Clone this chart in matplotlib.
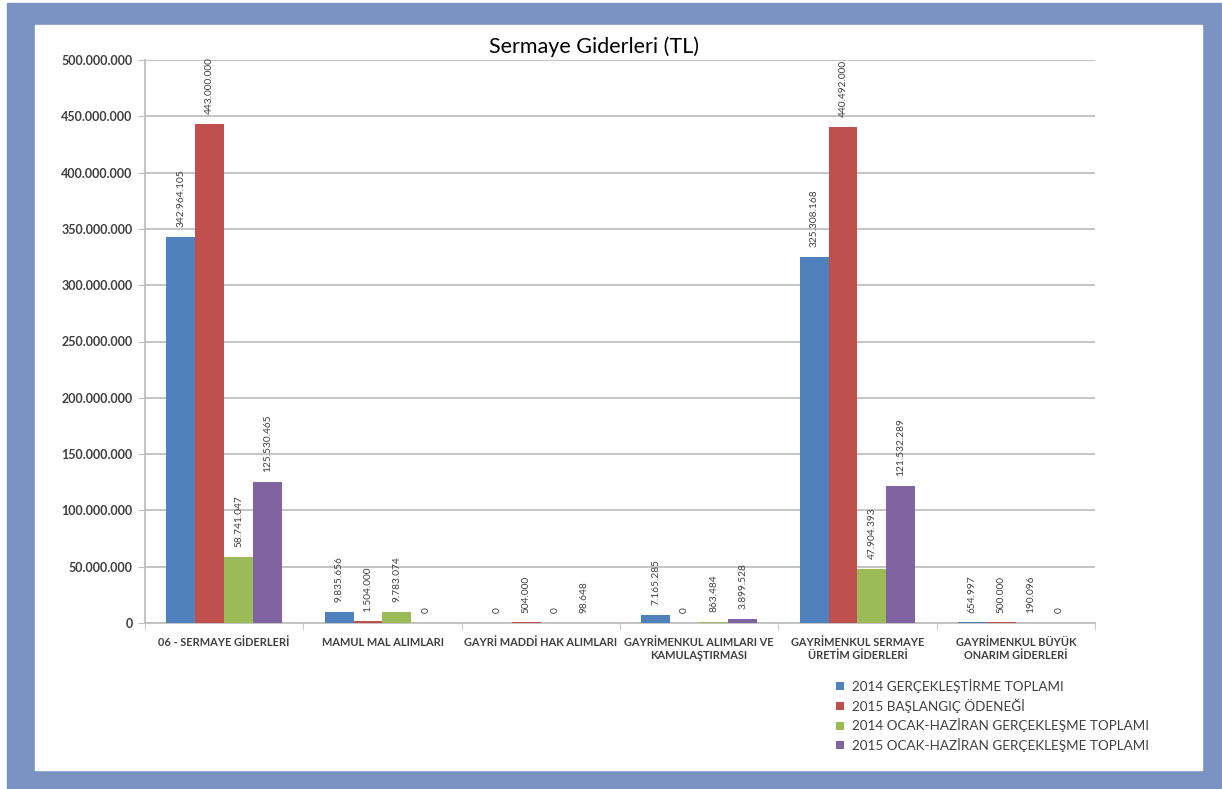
import numpy as np
import matplotlib
matplotlib.use("Agg")
from matplotlib import pyplot as plt
from matplotlib.patches import Rectangle

categories = [
    "06 - SERMAYE GİDERLERİ",
    "MAMUL MAL ALIMLARI",
    "GAYRİ MADDİ HAK ALIMLARI",
    "GAYRİMENKUL ALIMLARI VE\nKAMULAŞTIRMASI",
    "GAYRİMENKUL SERMAYE\nÜRETİM GİDERLERİ",
    "GAYRİMENKUL BÜYÜK\nONARIM GİDERLERİ",
]
series_names = [
    "2014 GERÇEKLEŞTİRME TOPLAMI",
    "2015 BAŞLANGIÇ ÖDENEĞİ",
    "2014 OCAK-HAZİRAN GERÇEKLEŞME TOPLAMI",
    "2015 OCAK-HAZİRAN GERÇEKLEŞME TOPLAMI",
]
gerceklestirme_2014 = [342964105, 9835656, 0, 7165285, 325308168, 654997]
baslangic_2015 = [443000000, 1504000, 504000, 0, 440492000, 500000]
ocak_haziran_2014 = [58741047, 9783074, 0, 863484, 47904393, 190096]
ocak_haziran_2015 = [125530465, 0, 98648, 3899528, 121532289, 0]
yticks = [0, 50e6, 100e6, 150e6, 200e6, 250e6, 300e6, 350e6, 400e6, 450e6, 500e6]

colors = ["#4F81BD", "#C0504D", "#9BBB59", "#8064A2"]
frame_color = "#7A93C2"
text_color = "#404040"
grid_color = "#BFBFBF"

plt.rcParams["font.family"] = ["Lato", "DejaVu Sans"]


def fmt(v):
    if v == 0:
        return "0"
    return f"{int(v):,}".replace(",", ".")


W, H = 1222, 789
fig = plt.figure(figsize=(W / 100, H / 100), dpi=100)
fig.patch.set_facecolor("white")
# blue frame and white panel
fig.patches.append(Rectangle((7 / W, 0), (W - 7) / W, (H - 3) / H,
                             transform=fig.transFigure, color=frame_color, zorder=-2))
fig.patches.append(Rectangle((35 / W, (H - 770) / H), (1202 - 35) / W, (770 - 25) / H,
                             transform=fig.transFigure, color="white", zorder=-1))

ax = fig.add_axes([145 / W, (H - 623) / H, (1095 - 145) / W, (623 - 60) / H])
ax.set_zorder(2)
ax.set_facecolor("none")

x = np.arange(len(categories))
width = 0.183
data = [gerceklestirme_2014, baslangic_2015, ocak_haziran_2014, ocak_haziran_2015]
for i, (vals, name, c) in enumerate(zip(data, series_names, colors)):
    pos = x + (i - 1.5) * width
    ax.bar(pos, vals, width, color=c, label=name, zorder=3)
    for px, v in zip(pos, vals):
        ax.annotate(fmt(v), (px, v), xytext=(0, 7),
                    textcoords="offset points", rotation=90, ha="center",
                    va="bottom", fontsize=7.3, color=text_color)

ax.set_xlim(-0.5, len(categories) - 0.5)
ax.set_ylim(0, 500e6)
ax.set_yticks(yticks)
ax.set_yticklabels([fmt(v) for v in yticks], fontsize=9, color=text_color,
                   fontweight="bold")
ax.set_xticks(x)
ax.set_xticklabels(categories, fontsize=7.9, color=text_color, fontweight="bold")
ax.set_xticks(np.arange(len(categories) + 1) - 0.5, minor=True)
ax.tick_params(axis="x", which="major", length=0, pad=10)
ax.tick_params(axis="x", which="minor", length=5, color=grid_color, direction="out")
ax.tick_params(axis="y", length=5, color=grid_color, pad=4)
ax.grid(axis="y", color=grid_color, linewidth=1.3, zorder=0)
for s in ["top", "right"]:
    ax.spines[s].set_visible(False)
for s in ["left", "bottom"]:
    ax.spines[s].set_color(grid_color)
    ax.spines[s].set_linewidth(1.3)

fig.text(594 / W, 1 - 47 / H, "Sermaye Giderleri (TL)", ha="center", va="center",
         fontsize=15.5, color="black")

leg = fig.legend(loc="upper left", bbox_to_anchor=(824 / W, 1 - 667 / H),
                 frameon=False, fontsize=9.7, handlelength=0.55, handleheight=0.55,
                 handletextpad=0.65, labelspacing=0.4, labelcolor=text_color)

fig.savefig("out.png", dpi=100)
